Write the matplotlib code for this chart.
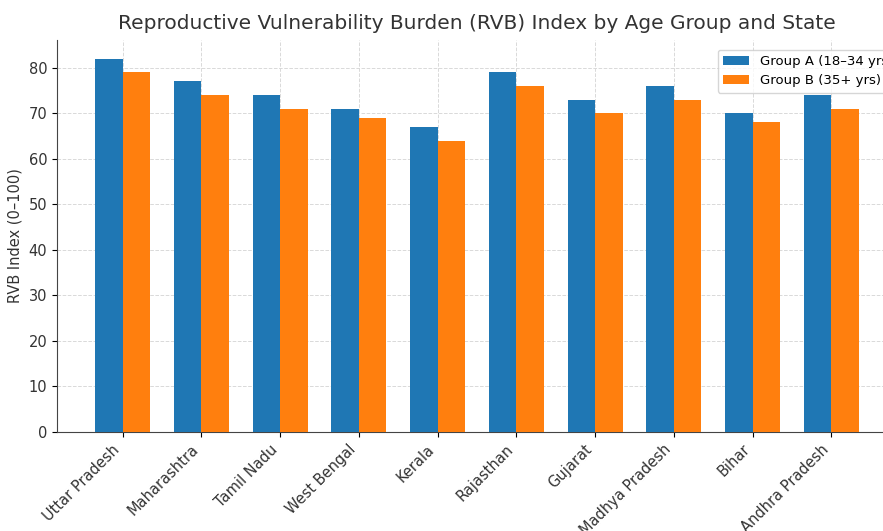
import matplotlib
matplotlib.use("Agg")
import matplotlib.pyplot as plt
import numpy as np

states = ["Uttar Pradesh", "Maharashtra", "Tamil Nadu", "West Bengal", "Kerala",
          "Rajasthan", "Gujarat", "Madhya Pradesh", "Bihar", "Andhra Pradesh"]
group_a = [82, 77, 74, 71, 67, 79, 73, 76, 70, 74]
group_b = [79, 74, 71, 69, 64, 76, 70, 73, 68, 71]

W, H = 883, 531
fig = plt.figure(figsize=(W / 100, H / 100), dpi=100)
ax = fig.add_axes([57 / W, 1 - 432 / H, (897 - 57) / W, (432 - 40) / H])

x = np.arange(len(states))
w = 0.35
ax.bar(x - w / 2, group_a, w, color="#1f77b4", label="Group A (18–34 yrs)", zorder=3)
ax.bar(x + w / 2, group_b, w, color="#ff7f0e", label="Group B (35+ yrs)", zorder=3)

ax.set_xticks(x)
ax.set_xticklabels(states, rotation=45, ha="right", fontsize=10.5, color="#333333")
ax.tick_params(axis="y", labelsize=10.5, labelcolor="#333333")
ax.set_ylabel("RVB Index (0–100)", fontsize=10.5, color="#333333")
ax.set_title("Reproductive Vulnerability Burden (RVB) Index by Age Group and State",
             fontsize=14.5, color="#333333", pad=8)
ax.grid(True, linestyle="--", color="#d9d9d9", linewidth=0.7, zorder=0)
for s in ["top", "right"]:
    ax.spines[s].set_visible(False)
for s in ["left", "bottom"]:
    ax.spines[s].set_color("#444444")
ax.legend(loc="upper right", bbox_to_anchor=(1.0 + 8 / 840, 1.0 - 3 / 392),
          fontsize=9.5, frameon=True)

fig.savefig("out.png", dpi=100)
